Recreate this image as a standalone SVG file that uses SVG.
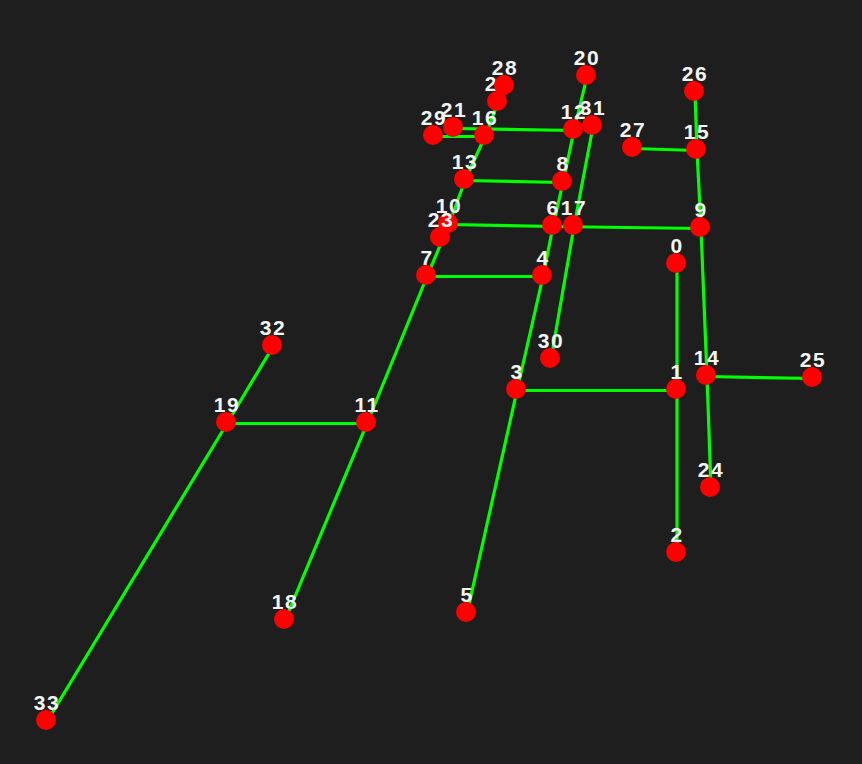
<svg xmlns="http://www.w3.org/2000/svg" width="862" height="764" viewBox="0 0 862 764">
<style>
.e{stroke:#00ff00;stroke-width:3.2;fill:none;stroke-linecap:butt}
.n{fill:#ff0000}
.t{fill:#f4f4f4;font-family:"Liberation Sans",Arial,sans-serif;font-weight:bold;font-size:21px;text-anchor:middle;letter-spacing:1.5px}
</style>
<rect width="862" height="764" fill="#1e1e1e"/>
<g id="connectors" transform="translate(1,1.5)">
<line class="e" x1="586" y1="75" x2="573" y2="129"/>
<line class="e" x1="573" y1="129" x2="562" y2="181"/>
<line class="e" x1="562" y1="181" x2="552" y2="225"/>
<line class="e" x1="552" y1="225" x2="542" y2="275"/>
<line class="e" x1="542" y1="275" x2="516" y2="389"/>
<line class="e" x1="516" y1="389" x2="466" y2="612"/>
<line class="e" x1="516" y1="389" x2="676" y2="389"/>
<line class="e" x1="676" y1="263" x2="676" y2="389"/>
<line class="e" x1="676" y1="389" x2="676" y2="552"/>
<line class="e" x1="592" y1="125" x2="573" y2="225"/>
<line class="e" x1="573" y1="225" x2="550" y2="358"/>
<line class="e" x1="448" y1="223" x2="552" y2="225"/>
<line class="e" x1="552" y1="225" x2="700" y2="227"/>
<line class="e" x1="694" y1="91" x2="696" y2="149"/>
<line class="e" x1="632" y1="147" x2="696" y2="149"/>
<line class="e" x1="696" y1="149" x2="700" y2="227"/>
<line class="e" x1="700" y1="227" x2="706" y2="375"/>
<line class="e" x1="706" y1="375" x2="812" y2="377"/>
<line class="e" x1="706" y1="375" x2="710" y2="487"/>
<line class="e" x1="497" y1="101" x2="484" y2="135"/>
<line class="e" x1="453" y1="127" x2="573" y2="129"/>
<line class="e" x1="433" y1="135" x2="484" y2="135"/>
<line class="e" x1="484" y1="135" x2="464" y2="179"/>
<line class="e" x1="464" y1="179" x2="562" y2="181"/>
<line class="e" x1="464" y1="179" x2="448" y2="223"/>
<line class="e" x1="448" y1="223" x2="426" y2="275"/>
<line class="e" x1="426" y1="275" x2="542" y2="275"/>
<line class="e" x1="426" y1="275" x2="366" y2="422"/>
<line class="e" x1="366" y1="422" x2="284" y2="619"/>
<line class="e" x1="366" y1="422" x2="226" y2="422"/>
<line class="e" x1="226" y1="422" x2="272" y2="345"/>
<line class="e" x1="226" y1="422" x2="46" y2="720"/>
</g>
<g id="node-0"><circle class="n" cx="676" cy="263" r="10"/><text class="t" x="677" y="253">0</text></g>
<g id="node-1"><circle class="n" cx="676" cy="389" r="10"/><text class="t" x="677" y="379">1</text></g>
<g id="node-2"><circle class="n" cx="676" cy="552" r="10"/><text class="t" x="677" y="542">2</text></g>
<g id="node-3"><circle class="n" cx="516" cy="389" r="10"/><text class="t" x="517" y="379">3</text></g>
<g id="node-4"><circle class="n" cx="542" cy="275" r="10"/><text class="t" x="543" y="265">4</text></g>
<g id="node-5"><circle class="n" cx="466" cy="612" r="10"/><text class="t" x="467" y="602">5</text></g>
<g id="node-6"><circle class="n" cx="552" cy="225" r="10"/><text class="t" x="553" y="215">6</text></g>
<g id="node-7"><circle class="n" cx="426" cy="275" r="10"/><text class="t" x="427" y="265">7</text></g>
<g id="node-8"><circle class="n" cx="562" cy="181" r="10"/><text class="t" x="563" y="171">8</text></g>
<g id="node-9"><circle class="n" cx="700" cy="227" r="10"/><text class="t" x="701" y="217">9</text></g>
<g id="node-10"><circle class="n" cx="448" cy="223" r="10"/><text class="t" x="449" y="213">10</text></g>
<g id="node-11"><circle class="n" cx="366" cy="422" r="10"/><text class="t" x="367" y="412">11</text></g>
<g id="node-12"><circle class="n" cx="573" cy="129" r="10"/><text class="t" x="574" y="119">12</text></g>
<g id="node-13"><circle class="n" cx="464" cy="179" r="10"/><text class="t" x="465" y="169">13</text></g>
<g id="node-14"><circle class="n" cx="706" cy="375" r="10"/><text class="t" x="707" y="365">14</text></g>
<g id="node-15"><circle class="n" cx="696" cy="149" r="10"/><text class="t" x="697" y="139">15</text></g>
<g id="node-16"><circle class="n" cx="484" cy="135" r="10"/><text class="t" x="485" y="125">16</text></g>
<g id="node-17"><circle class="n" cx="573" cy="225" r="10"/><text class="t" x="574" y="215">17</text></g>
<g id="node-18"><circle class="n" cx="284" cy="619" r="10"/><text class="t" x="285" y="609">18</text></g>
<g id="node-19"><circle class="n" cx="226" cy="422" r="10"/><text class="t" x="227" y="412">19</text></g>
<g id="node-20"><circle class="n" cx="586" cy="75" r="10"/><text class="t" x="587" y="65">20</text></g>
<g id="node-29"><circle class="n" cx="433" cy="135" r="10"/><text class="t" x="434" y="125">29</text></g>
<g id="node-21"><circle class="n" cx="453" cy="127" r="10"/><text class="t" x="454" y="117">21</text></g>
<g id="node-22"><circle class="n" cx="497" cy="101" r="10"/><text class="t" x="498" y="91">22</text></g>
<g id="node-23"><circle class="n" cx="440" cy="237" r="10"/><text class="t" x="441" y="227">23</text></g>
<g id="node-24"><circle class="n" cx="710" cy="487" r="10"/><text class="t" x="711" y="477">24</text></g>
<g id="node-25"><circle class="n" cx="812" cy="377" r="10"/><text class="t" x="813" y="367">25</text></g>
<g id="node-26"><circle class="n" cx="694" cy="91" r="10"/><text class="t" x="695" y="81">26</text></g>
<g id="node-27"><circle class="n" cx="632" cy="147" r="10"/><text class="t" x="633" y="137">27</text></g>
<g id="node-28"><circle class="n" cx="504" cy="85" r="10"/><text class="t" x="505" y="75">28</text></g>
<g id="node-30"><circle class="n" cx="550" cy="358" r="10"/><text class="t" x="551" y="348">30</text></g>
<g id="node-31"><circle class="n" cx="592" cy="125" r="10"/><text class="t" x="593" y="115">31</text></g>
<g id="node-32"><circle class="n" cx="272" cy="345" r="10"/><text class="t" x="273" y="335">32</text></g>
<g id="node-33"><circle class="n" cx="46" cy="720" r="10"/><text class="t" x="47" y="710">33</text></g>
</svg>
